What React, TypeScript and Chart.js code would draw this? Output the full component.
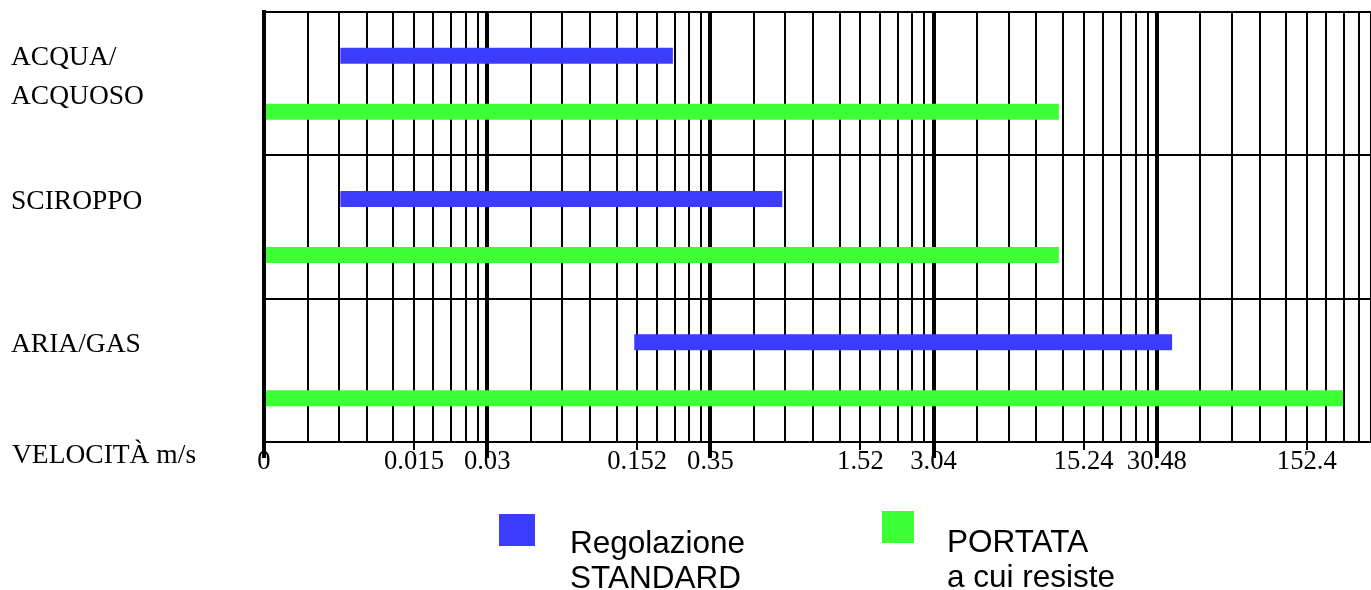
import React, { useEffect, useRef } from 'react';
import { Chart, registerables } from 'chart.js';

Chart.register(...registerables);

// ---- data ----
const CATEGORIES: string[][] = [['ACQUA/', 'ACQUOSO'], ['SCIROPPO', ''], ['ARIA/GAS', '']];
const SERIES_NAMES: string[][] = [['Regolazione', 'STANDARD'], ['PORTATA', 'a cui resiste']];
// floating ranges [start, end] in m/s
const STANDARD_RANGE: number[][] = [[0.0067, 0.207], [0.0067, 0.64], [0.139, 35.7]];
const PORTATA_RANGE: number[][] = [[0.003048, 11.1], [0.003048, 11.1], [0.003048, 208]];
const MAJOR_TICK_LABELS: string[] = ['0', '0.03', '0.35', '3.04', '30.48', ''];
const MID_TICK_LABELS: string[] = ['0.015', '0.152', '1.52', '15.24', '152.4'];
const AXIS_MIN = 0.003048;
const DECADES = 5;
const GRID_FRACTIONS: number[] = [0.195, 0.336, 0.461, 0.58, 0.672, 0.759, 0.84, 0.905, 0.959];
const AXIS_TITLE = 'VELOCITÀ m/s';

const BLUE = '#3c3cff';
const GREEN = '#3cff36';
const SERIF = '"Liberation Serif", "Times New Roman", serif';
const SANS = '"Liberation Sans", Arial, sans-serif';

const extrasPlugin = {
  id: 'extras',
  afterDraw(chart: any) {
    const x = chart.scales.x;
    const area = chart.chartArea;
    const ctx = chart.ctx;
    ctx.save();
    ctx.strokeStyle = '#000';
    ctx.lineWidth = 4;
    x.ticks.forEach((t: any) => {
      if (!t.major) return;
      const px = Math.round(x.getPixelForValue(t.value));
      ctx.beginPath();
      ctx.moveTo(px, area.bottom);
      ctx.lineTo(px, area.bottom + 16);
      ctx.stroke();
    });
    ctx.fillStyle = '#000';
    ctx.font = `27.5px ${SERIF}`;
    ctx.textBaseline = 'alphabetic';
    ctx.textAlign = 'left';
    ctx.fillText(AXIS_TITLE, 12, area.bottom + 21);
    ctx.restore();
  },
};

export default function App() {
  const canvasRef = useRef<HTMLCanvasElement | null>(null);

  useEffect(() => {
    if (!canvasRef.current) return;
    const chart = new Chart(canvasRef.current, {
      type: 'bar',
      data: {
        labels: CATEGORIES as any,
        datasets: [
          {
            label: SERIES_NAMES[0].join(' '),
            data: STANDARD_RANGE as any,
            backgroundColor: BLUE,
            borderWidth: 0,
            categoryPercentage: 0.7814,
            barPercentage: 0.2857,
          },
          {
            label: SERIES_NAMES[1].join(' '),
            data: PORTATA_RANGE as any,
            backgroundColor: GREEN,
            borderWidth: 0,
            categoryPercentage: 0.7814,
            barPercentage: 0.2857,
          },
        ],
      },
      options: {
        indexAxis: 'y',
        responsive: false,
        animation: false,
        events: [],
        layout: { padding: { left: 11, top: 12, right: 0, bottom: 108 } },
        plugins: { legend: { display: false }, tooltip: { enabled: false } },
        scales: {
          x: {
            type: 'logarithmic',
            position: 'bottom',
            min: AXIS_MIN,
            max: AXIS_MIN * Math.pow(10, DECADES),
            afterBuildTicks: (scale: any) => {
              const t: any[] = [];
              for (let d = 0; d <= DECADES; d++) {
                t.push({ value: AXIS_MIN * Math.pow(10, d), major: true });
                if (d < DECADES) {
                  GRID_FRACTIONS.forEach((f) => t.push({ value: AXIS_MIN * Math.pow(10, d + f), major: false }));
                }
              }
              scale.ticks = t;
            },
            afterFit: (scale: any) => {
              scale.height = 40;
              scale.paddingLeft = 0;
              scale.paddingRight = 0;
            },
            grid: {
              color: '#000',
              lineWidth: (c: any) => (c.index % 10 === 0 ? 4 : 2),
              drawTicks: true,
              tickLength: 8,
              tickColor: (c: any) => (c.index % 10 === 0 || c.index % 10 === 5 ? '#000' : 'rgba(0,0,0,0)'),
              tickWidth: (c: any) => (c.index % 10 === 0 ? 4 : 2),
            },
            border: { display: true, color: '#000', width: 2 },
            ticks: {
              autoSkip: false,
              maxRotation: 0,
              minRotation: 0,
              padding: -4,
              color: '#000',
              font: { family: SERIF, size: 26.67 },
              callback: (_v: any, index: number) => {
                const d = Math.floor(index / 10);
                const p = index % 10;
                if (p === 0) return MAJOR_TICK_LABELS[d] ?? '';
                if (p === 5) return MID_TICK_LABELS[d] ?? '';
                return '';
              },
            },
          },
          y: {
            type: 'category',
            afterFit: (scale: any) => {
              scale.width = 253;
              scale.paddingTop = 0;
              scale.paddingBottom = 0;
            },
            grid: { color: '#000', lineWidth: 2, drawTicks: false, offset: true },
            border: { display: true, color: '#000', width: 4, z: 1 },
            ticks: {
              crossAlign: 'far',
              labelOffset: -6,
              padding: 0,
              color: '#000',
              font: { family: SERIF, size: 27.5, lineHeight: 1.42 },
            },
          },
        },
      },
      plugins: [extrasPlugin],
    } as any);
    return () => chart.destroy();
  }, []);

  const legendText: React.CSSProperties = {
    position: 'absolute',
    fontFamily: SANS,
    fontSize: 31.5,
    lineHeight: '35px',
    color: '#000',
    whiteSpace: 'nowrap',
  };

  return (
    <div style={{ position: 'absolute', left: 0, top: 0, width: 1371, height: 590, overflow: 'hidden', background: '#fff' }}>
      <canvas ref={canvasRef} width={1380} height={590} style={{ width: 1380, height: 590, display: 'block' }} />
      <div style={{ position: 'absolute', left: 499, top: 514, width: 36, height: 32, background: BLUE }} />
      <div style={{ ...legendText, left: 570, top: 524.5 }}>
        {SERIES_NAMES[0].map((l, i) => (
          <div key={i}>{l}</div>
        ))}
      </div>
      <div style={{ position: 'absolute', left: 882, top: 511, width: 32, height: 32, background: GREEN }} />
      <div style={{ ...legendText, left: 947, top: 523.5 }}>
        {SERIES_NAMES[1].map((l, i) => (
          <div key={i}>{l}</div>
        ))}
      </div>
    </div>
  );
}
